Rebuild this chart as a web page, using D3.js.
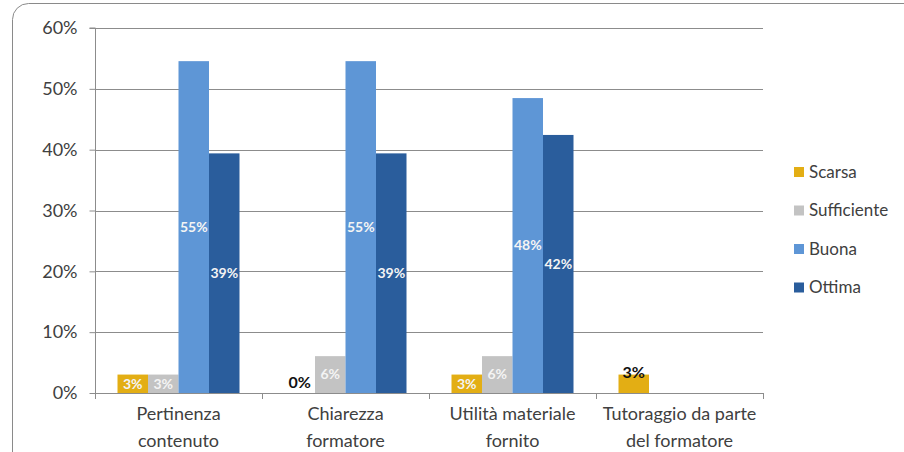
<!DOCTYPE html>
<html><head><meta charset="utf-8">
<script src="https://cdn.jsdelivr.net/npm/d3@7"></script>
<style>body{margin:0;background:#fff}svg{display:block;font-family:Lato,"Open Sans",sans-serif}</style>
</head><body>
<svg id="c" width="904" height="452"></svg>
<script>
const categories = [["Pertinenza","contenuto"],["Chiarezza","formatore"],["Utilità materiale","fornito"],["Tutoraggio da parte","del formatore"]];
const series = ["Scarsa","Sufficiente","Buona","Ottima"];
const scarsa = [3.03, 0, 3.03, 3.03];
const sufficiente = [3.03, 6.06, 6.06, null];
const buona = [54.55, 54.55, 48.48, null];
const ottima = [39.39, 39.39, 42.42, null];
const yTicks = [0,10,20,30,40,50,60];
const colors = ["#E3AE14","#C3C3C3","#5E96D6","#2A5D9C"];
const values = [scarsa, sufficiente, buona, ottima];

const svg = d3.select("#c");
svg.append("rect").attr("x",12.5).attr("y",3.5).attr("width",920).attr("height",480).attr("rx",16)
  .attr("fill","none").attr("stroke","#8a8a8a").attr("stroke-width",1);

const pL=95, pR=763, pT=28, pB=393;
const y = d3.scaleLinear().domain([0,60]).range([pB,pT]);
const x0 = d3.scaleBand().domain(d3.range(categories.length)).range([pL,pR]);
const bw = x0.bandwidth();
const gap = (bw-122)/2;
const x1 = d3.scaleBand().domain(series).range([gap,bw-gap]);

// gridlines
svg.append("g").selectAll("line").data(yTicks.filter(t=>t>0)).join("line")
  .attr("x1",pL).attr("x2",pR).attr("y1",d=>Math.round(y(d))+0.5).attr("y2",d=>Math.round(y(d))+0.5)
  .attr("stroke","#8c8c8c");

// y axis
const yAxis = d3.axisLeft(y).tickValues(yTicks).tickFormat(d=>d+"%").tickSize(6).tickPadding(12);
const gy = svg.append("g").attr("transform",`translate(${pL+0.5},0)`).call(yAxis);
gy.select(".domain").attr("stroke","#8c8c8c").attr("d",`M-6,${pT}H0V${pB+6}`);
gy.selectAll(".tick line").attr("stroke","#8c8c8c");
gy.selectAll(".tick text").attr("font-size",18).attr("fill","#404040").attr("font-family","Lato,sans-serif");

// bars
series.forEach((s,si)=>{
  const g = svg.append("g");
  const data = values[si].map((v,i)=>({v,i})).filter(d=>d.v!==null);
  g.selectAll("rect").data(data).join("rect")
    .attr("x",d=>x0(d.i)+x1(s)).attr("width",x1.bandwidth())
    .attr("y",d=>y(d.v)).attr("height",d=>y(0)-y(d.v)).attr("fill",colors[si]);
});

// x axis
svg.append("line").attr("x1",pL).attr("x2",pR).attr("y1",pB+0.5).attr("y2",pB+0.5).attr("stroke","#8c8c8c");
svg.append("g").selectAll("line").data(d3.range(categories.length+1)).join("line")
  .attr("x1",d=>Math.round(pL+d*bw)+0.5).attr("x2",d=>Math.round(pL+d*bw)+0.5)
  .attr("y1",pB).attr("y2",pB+6).attr("stroke","#8c8c8c");
const cl = svg.append("g").selectAll("text").data(categories).join("text")
  .attr("x",(d,i)=>x0(i)+bw/2).attr("text-anchor","middle").attr("font-size",18).attr("fill","#404040");
cl.append("tspan").attr("x",(d,i)=>x0(i)+bw/2).attr("y",420).text(d=>d[0]);
cl.append("tspan").attr("x",(d,i)=>x0(i)+bw/2).attr("y",447).text(d=>d[1]);

// labels
series.forEach((s,si)=>{
  values[si].forEach((v,i)=>{
    if(v===null) return;
    const cx = x0(i)+x1(s)+x1.bandwidth()/2;
    let dark = (v===0) || (i===3);
    let yy = (y(v)+y(0))/2;
    if(v===0) yy = y(0)-11;
    if(i===3) yy = y(v)-2;
    svg.append("text").attr("x",cx).attr("y",yy).attr("dy","0.35em").attr("text-anchor","middle")
      .attr("font-size",dark?16:14).attr("font-weight","bold")
      .attr("fill",dark?"#111":"#f4f4f4").text(Math.round(v)+"%");
  });
});

// legend
const lg = svg.append("g").attr("transform","translate(790,0)");
series.forEach((s,i)=>{
  const yy = 172 + i*38.5;
  lg.append("rect").attr("x",4).attr("y",yy-5).attr("width",10).attr("height",10).attr("fill",colors[i]);
  lg.append("text").attr("x",19).attr("y",yy).attr("dy","0.35em").attr("font-size",17).attr("fill","#404040").text(s);
});
</script>
</body></html>
